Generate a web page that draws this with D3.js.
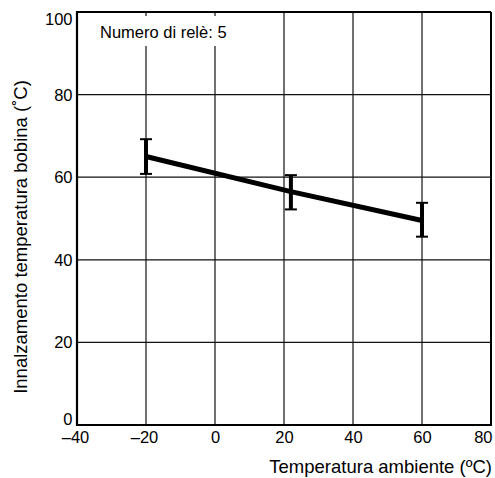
<!DOCTYPE html>
<html><head><meta charset="utf-8">
<script src="https://cdn.jsdelivr.net/npm/d3@7"></script>
<style>body{margin:0;background:#fff}svg{display:block}text{font-family:"Liberation Sans",Arial,sans-serif;fill:#000}</style>
</head><body>
<svg id="c" width="495" height="478"></svg>
<script>
const xTicks = [-40, -20, 0, 20, 40, 60, 80];
const yTicks = [0, 20, 40, 60, 80, 100];
const temps = [-20, 22, 60];
const rise = [65, 56.5, 49.5];
const errLow = [60.8, 52.2, 45.6];
const errHigh = [69.2, 60.5, 53.8];
const note = "Numero di relè: 5";
const xTitle = "Temperatura ambiente (ºC)";
const yTitle = "Innalzamento temperatura bobina (˚C)";

const svg = d3.select("#c");
const L = 77, R = 491, T = 12, B = 425;
const x = d3.scaleLinear().domain([-40, 80]).range([L, R]);
const y = d3.scaleLinear().domain([0, 100]).range([B, T]);
const FF = '"Liberation Sans",Arial,sans-serif';

// grid
svg.append("g").selectAll("line").data(xTicks.slice(1, -1)).join("line")
  .attr("x1", d => x(d)).attr("x2", d => x(d)).attr("y1", T).attr("y2", B)
  .attr("stroke", "#111").attr("stroke-width", 1.2);
svg.append("g").selectAll("line").data(yTicks.slice(1, -1)).join("line")
  .attr("y1", d => y(d)).attr("y2", d => y(d)).attr("x1", L).attr("x2", R)
  .attr("stroke", "#111").attr("stroke-width", 1.2);

// note with white background
const nt = svg.append("text").attr("x", 100).attr("y", 38).attr("font-size", 16.5).text(note);
const bb = nt.node().getBBox();
svg.insert("rect", "text").attr("x", bb.x - 2).attr("y", T + 4).attr("width", bb.width + 4).attr("height", bb.y + bb.height + 5 - (T + 4)).attr("fill", "#fff");

// frame
svg.append("line").attr("x1", L).attr("x2", R).attr("y1", T).attr("y2", T).attr("stroke", "#000").attr("stroke-width", 2);
svg.append("line").attr("x1", R).attr("x2", R).attr("y1", T).attr("y2", B).attr("stroke", "#000").attr("stroke-width", 2);
svg.append("line").attr("x1", L).attr("x2", L).attr("y1", T - 1).attr("y2", B + 1).attr("stroke", "#000").attr("stroke-width", 2.2);
svg.append("line").attr("x1", L - 1).attr("x2", R + 1).attr("y1", B).attr("y2", B).attr("stroke", "#000").attr("stroke-width", 2.2);

// axes labels
const fmt = d => d < 0 ? "\u2013" + Math.abs(d) : String(d);
const xa = svg.append("g").attr("transform", `translate(0,${B})`)
  .call(d3.axisBottom(x).tickValues(xTicks).tickSize(0).tickPadding(6).tickFormat(fmt));
xa.select(".domain").remove();
xa.selectAll("text").attr("font-size", 16.5).attr("font-family", FF)
  .attr("text-anchor", d => d === 80 ? "end" : "middle")
  .attr("dx", d => d === 80 ? 1 : (d < 0 ? -2 : 0));
const ya = svg.append("g").attr("transform", `translate(${L},0)`)
  .call(d3.axisLeft(y).tickValues(yTicks).tickSize(0).tickPadding(4.5));
ya.select(".domain").remove();
ya.selectAll("text").attr("font-size", 16.5).attr("font-family", FF)
  .attr("dy", d => d === 100 ? "0.71em" : (d === 0 ? "-0.05em" : "0.33em"))
  .attr("y", d => d === 100 ? 1 : 0);

// titles
svg.append("text").attr("x", 492).attr("y", 473).attr("text-anchor", "end").attr("font-size", 18.5).text(xTitle);
svg.append("text").attr("transform", "translate(27,237) rotate(-90)").attr("text-anchor", "middle").attr("font-size", 18.5).text(yTitle);

// line
svg.append("path").datum(temps.map((t, i) => [t, rise[i]]))
  .attr("d", d3.line().x(d => x(d[0])).y(d => y(d[1])))
  .attr("fill", "none").attr("stroke", "#000").attr("stroke-width", 5);

// error bars
const eb = svg.append("g").attr("stroke", "#000");
temps.forEach((t, i) => {
  eb.append("line").attr("x1", x(t)).attr("x2", x(t)).attr("y1", y(errLow[i])).attr("y2", y(errHigh[i])).attr("stroke-width", 4);
  [errLow[i], errHigh[i]].forEach(v => eb.append("line").attr("x1", x(t) - 6).attr("x2", x(t) + 6).attr("y1", y(v)).attr("y2", y(v)).attr("stroke-width", 2));
});
</script>
</body></html>
